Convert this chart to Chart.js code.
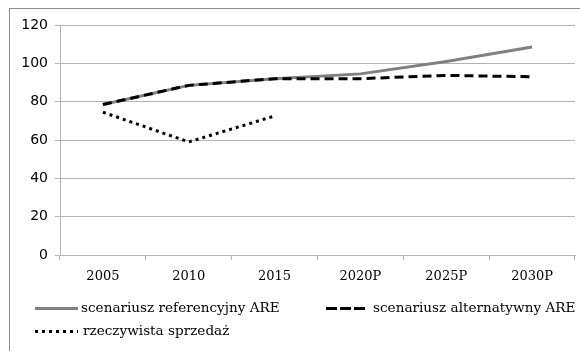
<!DOCTYPE html>
<html>
<head>
<meta charset="utf-8">
<script src="https://cdn.jsdelivr.net/npm/chart.js@4.4.1/dist/chart.umd.min.js"></script>
<style>
  html, body { margin: 0; padding: 0; background: #ffffff; }
  #wrap { width: 580px; height: 351px; position: relative; }
</style>
</head>
<body>
<div id="wrap"><canvas id="chart" width="580" height="351"></canvas></div>
<script>
// Kategorie (lata) i serie danych
const categories = ['2005', '2010', '2015', '2020P', '2025P', '2030P'];
const referenceScenario = [78.5, 88.5, 92, 94.5, 101, 108.5];
const alternativeScenario = [78.5, 88.5, 92, 92, 93.7, 93];
const actualSales = [74.5, 59, 72.5, null, null, null];
const seriesNames = ['scenariusz referencyjny ARE', 'scenariusz alternatywny ARE', 'rzeczywista sprzedaż'];
const yTicks = [0, 20, 40, 60, 80, 100, 120];

const GRID = '#b3b3b3';
const SERIF = '"DejaVu Serif", "Liberation Serif", serif';
const SANS = '"DejaVu Sans", "Liberation Sans", sans-serif';

// Ramka wokół całego wykresu
const frame = {
  id: 'frame',
  beforeDraw(chart) {
    const ctx = chart.ctx;
    ctx.save();
    ctx.fillStyle = '#ffffff';
    ctx.fillRect(0, 0, chart.width, chart.height);
    ctx.strokeStyle = '#8c8c8c';
    ctx.lineWidth = 1;
    ctx.strokeRect(9.5, 8.5, 600, 400);
    ctx.restore();
  }
};

// Legenda w dwóch kolumnach pod osią X
const legendBlock = {
  id: 'legendBlock',
  afterDraw(chart) {
    const ctx = chart.ctx;
    const slots = [
      { x: 35, y: 308, tx: 81 },
      { x: 326, y: 308, tx: 373 },
      { x: 35, y: 331, tx: 83 }
    ];
    ctx.save();
    ctx.font = '13.6px ' + SERIF;
    ctx.textBaseline = 'middle';
    ctx.fillStyle = '#000000';
    chart.data.datasets.forEach((ds, i) => {
      const s = slots[i];
      ctx.strokeStyle = ds.borderColor;
      ctx.lineWidth = ds.borderWidth;
      ctx.setLineDash(ds.legendDash || []);
      ctx.beginPath();
      ctx.moveTo(s.x, s.y + 0.5);
      ctx.lineTo(s.x + (i === 1 ? 39 : 43), s.y + 0.5);
      ctx.stroke();
      ctx.setLineDash([]);
      ctx.fillText(ds.label, s.tx, s.y);
    });
    ctx.restore();
  }
};

new Chart(document.getElementById('chart'), {
  type: 'line',
  data: {
    labels: categories,
    datasets: [
      {
        label: seriesNames[0],
        data: referenceScenario,
        borderColor: '#808080',
        borderWidth: 3,
        pointRadius: 0,
        tension: 0,
        order: 3
      },
      {
        label: seriesNames[1],
        data: alternativeScenario,
        borderColor: '#000000',
        borderWidth: 3,
        borderDash: [9, 5],
        legendDash: [11, 3],
        pointRadius: 0,
        tension: 0,
        order: 2
      },
      {
        label: seriesNames[2],
        data: actualSales,
        borderColor: '#000000',
        borderWidth: 3,
        borderDash: [3, 4],
        legendDash: [3, 4],
        pointRadius: 0,
        tension: 0,
        spanGaps: false,
        order: 1
      }
    ]
  },
  options: {
    responsive: false,
    animation: false,
    layout: { padding: { left: 10, right: 5, top: 25, bottom: 60 } },
    plugins: {
      legend: { display: false },
      tooltip: { enabled: false }
    },
    scales: {
      x: {
        offset: true,
        grid: {
          offset: true,
          drawOnChartArea: false,
          drawTicks: true,
          tickLength: 5,
          color: GRID
        },
        border: { display: true, color: GRID, width: 1 },
        ticks: {
          font: { family: SERIF, size: 13 },
          color: '#000000',
          padding: 9,
          maxRotation: 0
        },
        afterFit(scale) { scale.height = 36; }
      },
      y: {
        min: 0,
        max: 120,
        afterBuildTicks(scale) { scale.ticks = yTicks.map(v => ({ value: v })); },
        grid: {
          color: GRID,
          lineWidth: 1,
          drawTicks: true,
          tickLength: 5
        },
        border: { display: true, color: GRID, width: 1 },
        ticks: {
          font: { family: SANS, size: 14 },
          color: '#000000',
          padding: 7
        },
        afterFit(scale) { scale.width = 50; }
      }
    }
  },
  plugins: [frame, legendBlock]
});
</script>
</body>
</html>
